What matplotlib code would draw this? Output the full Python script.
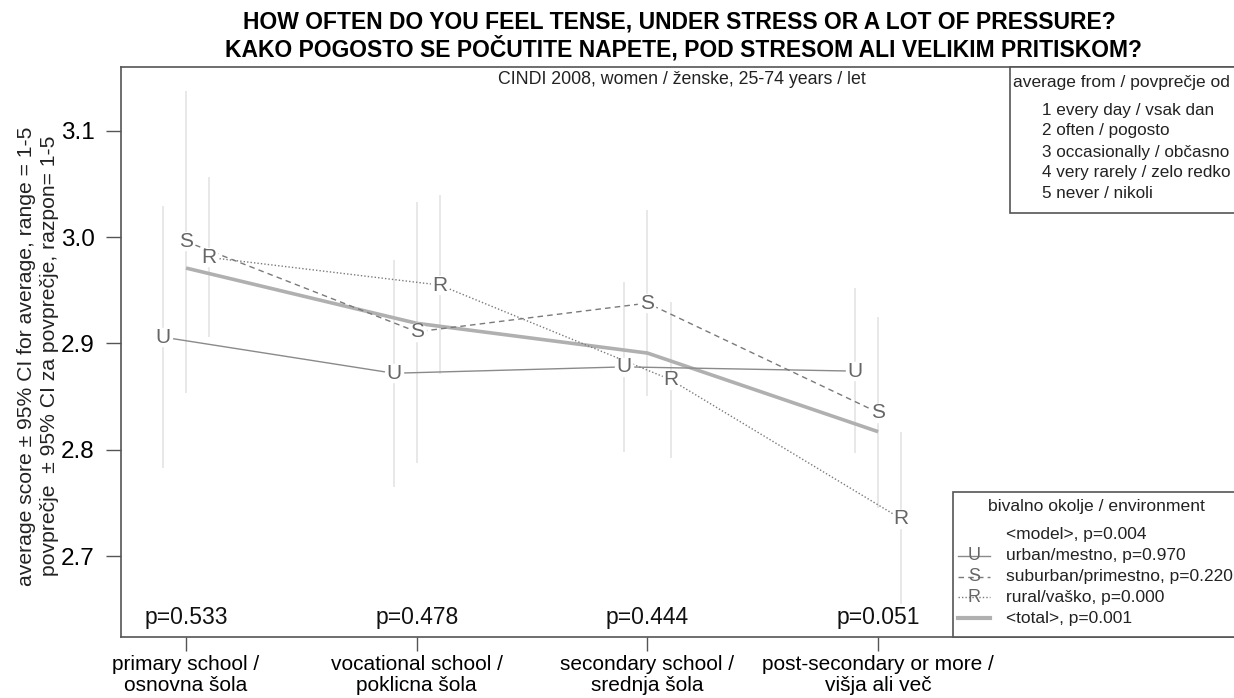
import numpy as np
import matplotlib.pyplot as plt
from matplotlib.patches import Rectangle
from matplotlib.lines import Line2D

plt.rcParams['font.family'] = ['Liberation Sans', 'DejaVu Sans']

# data
categories = ['primary school /\nosnovna šola', 'vocational school /\npoklicna šola',
              'secondary school /\nsrednja šola', 'post-secondary or more /\nvišja ali več']
urban = [2.906, 2.872, 2.878, 2.874]
urban_lo = [2.783, 2.765, 2.798, 2.797]
urban_hi = [3.029, 2.979, 2.958, 2.952]
suburban = [2.996, 2.911, 2.938, 2.835]
suburban_lo = [2.853, 2.788, 2.851, 2.745]
suburban_hi = [3.138, 3.033, 3.026, 2.925]
rural = [2.981, 2.955, 2.866, 2.735]
rural_lo = [2.906, 2.871, 2.792, 2.655]
rural_hi = [3.057, 3.040, 2.939, 2.817]
total = [2.971, 2.919, 2.891, 2.817]
p_values = ['p=0.533', 'p=0.478', 'p=0.444', 'p=0.051']

legend_scale = ['1 every day / vsak dan', '2 often / pogosto', '3 occasionally / občasno',
                '4 very rarely / zelo redko', '5 never / nikoli']
legend_env = ['<model>, p=0.004', 'urban/mestno, p=0.970', 'suburban/primestno, p=0.220',
              'rural/vaško, p=0.000', '<total>, p=0.001']

W, H = 1234, 698
def fx(x): return x / W
def fy(y): return 1 - y / H

fig = plt.figure(figsize=(12.34, 6.98), dpi=100)
# axes runs past the right edge of the picture, as in the original
ax = fig.add_axes([fx(121), fy(637), fx(1300 - 121), (637 - 67) / H])

x = np.arange(1, 5)
frame = '#555555'
letter_col = '#666666'
ci_col = '#e4e4e4'
txt = '#222222'

series = [
    ('U', -0.1, urban, urban_lo, urban_hi, '-', '#8a8a8a'),
    ('S', 0.0, suburban, suburban_lo, suburban_hi, (0, (4, 3)), '#7a7a7a'),
    ('R', 0.1, rural, rural_lo, rural_hi, (0, (1, 1.5)), '#7a7a7a'),
]

for letter, off, vals, lo, hi, ls, col in series:
    xs = x + off
    ax.vlines(xs, lo, hi, color=ci_col, lw=1.2, zorder=1)

ax.plot(x, total, color='#b0b0b0', lw=2.6, zorder=2, solid_capstyle='butt')

for letter, off, vals, lo, hi, ls, col in series:
    xs = x + off
    ax.plot(xs, vals, color=col, lw=1.0, ls=ls, zorder=3)
    ax.plot(xs, vals, ls='none', marker='o', ms=14, mfc='white', mec='none', zorder=4)
    for xi, v in zip(xs, vals):
        ax.text(xi, v, letter, color=letter_col, fontsize=15, ha='center', va='center', zorder=5)

for xi, p in zip(x, p_values):
    ax.text(xi, 2.6417, p, fontsize=16.5, ha='center', va='center', color='#111111')

ax.set_xlim(0.718, 0.718 + (1300 - 121) / 230.7)
ax.set_ylim(2.6238, 3.1602)
ax.set_xticks(x)
ax.set_xticklabels(categories, fontsize=15, linespacing=1.12)
ax.set_yticks([2.7, 2.8, 2.9, 3.0, 3.1])
ax.set_yticklabels(['2.7', '2.8', '2.9', '3.0', '3.1'], fontsize=17.5)
ax.tick_params(axis='y', length=11, pad=8, color=frame, width=1)
ax.tick_params(axis='x', length=10, pad=3, color=frame, width=1)
for s in ax.spines.values():
    s.set_color(frame)
    s.set_linewidth(1.2)

# y label, two lines
fig.text(fx(27), fy(356), 'average score ± 95% CI for average, range = 1-5', rotation=90,
         ha='center', va='center', fontsize=15.2, color=txt)
fig.text(fx(50), fy(356), 'povprečje  ± 95% CI za povprečje, razpon= 1-5', rotation=90,
         ha='center', va='center', fontsize=15.2, color=txt)

# titles
fig.text(fx(679), fy(22), 'HOW OFTEN DO YOU FEEL TENSE, UNDER STRESS OR A LOT OF PRESSURE?',
         ha='center', va='center', fontsize=16.5, fontweight='bold')
fig.text(fx(684), fy(49), 'KAKO POGOSTO SE POČUTITE NAPETE, POD STRESOM ALI VELIKIM PRITISKOM?',
         ha='center', va='center', fontsize=16.5, fontweight='bold')
fig.text(fx(682), fy(79), 'CINDI 2008, women / ženske, 25-74 years / let',
         ha='center', va='center', fontsize=12.8, color=txt)

# legend 1: answer scale
fig.patches.append(Rectangle((fx(1010), fy(213)), fx(300), (213 - 67) / H,
                             transform=fig.transFigure, fill=True, fc='white',
                             ec=frame, lw=1.2, zorder=6))
fig.text(fx(1013), fy(83), 'average from / povprečje od', ha='left', va='center',
         fontsize=12.5, color=txt, zorder=7)
for i, t in enumerate(legend_scale):
    fig.text(fx(1042), fy(110 + 21 * i), t, ha='left', va='center',
             fontsize=12.3, color=txt, zorder=7)

# legend 2: environment
fig.patches.append(Rectangle((fx(953), fy(637)), fx(400), (637 - 492) / H,
                             transform=fig.transFigure, fill=True, fc='white',
                             ec=frame, lw=1.2, zorder=6))
fig.text(fx(988), fy(507), 'bivalno okolje / environment', ha='left', va='center',
         fontsize=12.6, color=txt, zorder=7)
handles = [None,
           ('U', '-', '#8a8a8a', 1.0),
           ('S', (0, (4, 3)), '#7a7a7a', 1.0),
           ('R', (0, (1, 1.5)), '#7a7a7a', 1.0),
           (None, '-', '#b0b0b0', 3.0)]
for i, (t, h) in enumerate(zip(legend_env, handles)):
    yy = 535 + 20.8 * i
    fig.text(fx(1006), fy(yy), t, ha='left', va='center', fontsize=12.5,
             color=txt, zorder=7)
    if h is None:
        continue
    letter, ls, col, lw = h
    fig.lines.append(Line2D([fx(958), fx(990)], [fy(yy), fy(yy)], transform=fig.transFigure,
                            color=col, ls=ls, lw=lw, zorder=7))
    if letter:
        fig.text(fx(974), fy(yy), letter, ha='center', va='center', fontsize=13,
                 color=letter_col, zorder=8)

fig.savefig('out.png', dpi=100)
